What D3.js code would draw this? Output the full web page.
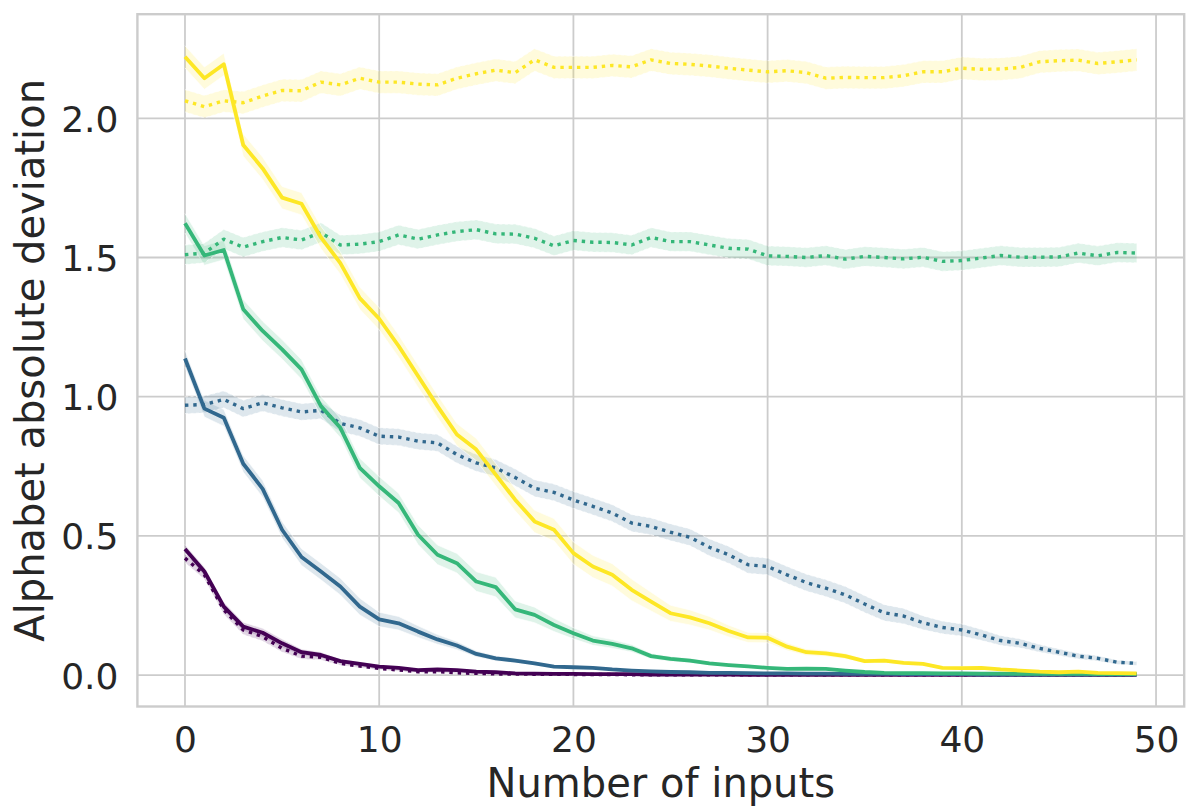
<!DOCTYPE html>
<html>
<head>
<meta charset="utf-8">
<script src="https://cdn.jsdelivr.net/npm/d3@7"></script>
<style>
  html, body { margin: 0; padding: 0; background: #ffffff; }
  svg { display: block; font-family: "DejaVu Sans", sans-serif; }
</style>
</head>
<body>
<svg id="chart" width="1199" height="808"></svg>
<script>
// ---- data ----
const xs = d3.range(0, 50); // number of inputs 0..49

const yellowSolid = [2.221,2.144,2.194,1.904,1.82,1.715,1.693,1.572,1.48,1.354,
  1.28,1.182,1.074,0.966,0.864,0.81,0.72,0.63,0.552,0.522,
  0.438,0.39,0.36,0.306,0.264,0.222,0.207,0.186,0.158,0.135,
  0.134,0.102,0.082,0.078,0.068,0.05,0.052,0.044,0.04,0.026,
  0.025,0.026,0.02,0.016,0.012,0.01,0.012,0.008,0.007,0.006];
const yellowDotted = [2.063,2.042,2.063,2.056,2.08,2.10,2.099,2.13,2.12,2.144,
  2.13,2.13,2.123,2.12,2.144,2.16,2.173,2.164,2.21,2.183,
  2.183,2.183,2.19,2.185,2.21,2.197,2.194,2.188,2.18,2.173,
  2.167,2.171,2.164,2.144,2.147,2.146,2.146,2.153,2.167,2.167,
  2.18,2.176,2.177,2.183,2.203,2.207,2.209,2.197,2.203,2.21];
const greenSolid = [1.623,1.507,1.527,1.314,1.236,1.17,1.098,0.966,0.888,0.744,
  0.678,0.618,0.504,0.432,0.402,0.336,0.316,0.236,0.216,0.18,
  0.15,0.124,0.112,0.096,0.068,0.058,0.052,0.042,0.036,0.031,
  0.026,0.022,0.023,0.022,0.016,0.011,0.008,0.007,0.007,0.006,
  0.006,0.005,0.005,0.004,0.004,0.004,0.005,0.003,0.003,0.003];
const greenDotted = [1.510,1.516,1.566,1.537,1.557,1.572,1.563,1.59,1.545,1.548,
  1.557,1.581,1.566,1.581,1.593,1.6,1.585,1.584,1.569,1.542,
  1.561,1.555,1.554,1.545,1.572,1.557,1.557,1.545,1.533,1.53,
  1.506,1.504,1.5,1.507,1.494,1.504,1.5,1.495,1.501,1.486,
  1.489,1.498,1.507,1.501,1.501,1.502,1.516,1.506,1.518,1.516];
const blueSolid = [1.137,0.957,0.924,0.759,0.669,0.522,0.424,0.372,0.318,0.246,
  0.2,0.186,0.156,0.128,0.106,0.076,0.06,0.052,0.042,0.03,
  0.028,0.026,0.02,0.016,0.013,0.011,0.01,0.008,0.008,0.007,
  0.006,0.006,0.005,0.005,0.004,0.004,0.004,0.003,0.003,0.003,
  0.003,0.002,0.002,0.002,0.002,0.002,0.002,0.002,0.002,0.002];
const blueDotted = [0.969,0.972,0.99,0.957,0.978,0.96,0.945,0.951,0.904,0.888,
  0.858,0.855,0.84,0.834,0.792,0.762,0.744,0.71,0.671,0.656,
  0.629,0.606,0.582,0.546,0.534,0.513,0.495,0.459,0.432,0.396,
  0.39,0.36,0.332,0.312,0.288,0.255,0.224,0.212,0.188,0.171,
  0.162,0.144,0.124,0.114,0.096,0.082,0.068,0.06,0.046,0.042];
const purpleSolid = [0.453,0.372,0.246,0.174,0.152,0.114,0.082,0.072,0.05,0.04,
  0.03,0.026,0.018,0.02,0.018,0.012,0.01,0.006,0.005,0.004,
  0.004,0.003,0.003,0.003,0.002,0.002,0.002,0.002,0.002,0.001,
  0.001,0.001,0.001,0.001,0.001,0.001,0.001,0.001,0.001,0.001,
  0.001,0.001,0.001,0.001,0.001,0.001,0.001,0.001,0.001,0.001];
const purpleDotted = [0.42,0.36,0.234,0.162,0.138,0.096,0.068,0.064,0.042,0.032,
  0.024,0.018,0.012,0.012,0.008,0.006,0.004,0.004,0.003,0.003,
  0.002,0.002,0.002,0.001,0.001,0.001,0.001,0.001,0.001,0.001,
  0.001,0.001,0.001,0.001,0.001,0.001,0.001,0.001,0.001,0.001,
  0.001,0.001,0.001,0.001,0.001,0.001,0.001,0.001,0.001,0.001];

// confidence band half-widths (approximate, per series)
const bandHalf = { purple: 0.016, blue: 0.03, green: 0.035, yellow: 0.04 };

const colors = { purple: "#440154", blue: "#31688e", green: "#35b779", yellow: "#fde725" };

const xTicks = [0, 10, 20, 30, 40, 50];
const yTicks = [0.0, 0.5, 1.0, 1.5, 2.0];

const series = [
  { key: "purple", style: "solid",  values: purpleSolid },
  { key: "purple", style: "dotted", values: purpleDotted },
  { key: "blue",   style: "solid",  values: blueSolid },
  { key: "blue",   style: "dotted", values: blueDotted },
  { key: "green",  style: "solid",  values: greenSolid },
  { key: "green",  style: "dotted", values: greenDotted },
  { key: "yellow", style: "solid",  values: yellowSolid },
  { key: "yellow", style: "dotted", values: yellowDotted }
];

// ---- layout ----
const svg = d3.select("#chart");
const pLeft = 137.4, pRight = 1184.2, pTop = 14.2, pBottom = 706.5;

const x = d3.scaleLinear().domain([-2.45, 51.45]).range([pLeft, pRight]);
const y = d3.scaleLinear().domain([-0.113, 2.374]).range([pBottom, pTop]);

const textColor = "#262626";
const gridColor = "#cccccc";

// grid
const grid = svg.append("g");
grid.selectAll("line.vx").data(xTicks).join("line")
  .attr("x1", d => x(d)).attr("x2", d => x(d))
  .attr("y1", pTop).attr("y2", pBottom)
  .attr("stroke", gridColor).attr("stroke-width", 1.8);
grid.selectAll("line.hy").data(yTicks).join("line")
  .attr("x1", pLeft).attr("x2", pRight)
  .attr("y1", d => y(d)).attr("y2", d => y(d))
  .attr("stroke", gridColor).attr("stroke-width", 1.8);

// clip
svg.append("clipPath").attr("id", "clip").append("rect")
  .attr("x", pLeft).attr("y", pTop).attr("width", pRight - pLeft).attr("height", pBottom - pTop);

const plot = svg.append("g").attr("clip-path", "url(#clip)");

const lineGen = d3.line().x((d, i) => x(xs[i])).y(d => y(d));

series.forEach(s => {
  const h = bandHalf[s.key];
  const half = s.values.map(v => Math.min(h, v * 0.12 + 0.002));
  const area = d3.area()
    .x((d, i) => x(xs[i]))
    .y0((d, i) => y(d - half[i]))
    .y1((d, i) => y(d + half[i]));
  plot.append("path").datum(s.values)
    .attr("d", area)
    .attr("fill", colors[s.key]).attr("fill-opacity", 0.16)
    .attr("stroke", "none");
  const lo = d3.line().x((d, i) => x(xs[i])).y((d, i) => y(d - half[i]));
  const hi = d3.line().x((d, i) => x(xs[i])).y((d, i) => y(d + half[i]));
  [lo, hi].forEach(g => {
    plot.append("path").datum(s.values).attr("d", g)
      .attr("fill", "none").attr("stroke", "#ffffff").attr("stroke-opacity", 0.7)
      .attr("stroke-width", 0.9).attr("stroke-dasharray", s.style === "dotted" ? "3 2.5" : null);
  });
});

series.forEach(s => {
  const dotted = s.style === "dotted";
  plot.append("path").datum(s.values)
    .attr("d", lineGen)
    .attr("fill", "none")
    .attr("stroke", colors[s.key])
    .attr("stroke-width", dotted ? 3.4 : 3.8)
    .attr("stroke-linejoin", "round")
    .attr("stroke-linecap", "butt")
    .attr("stroke-dasharray", dotted ? "3.4 4.9" : null);
});

// frame
svg.append("rect")
  .attr("x", pLeft).attr("y", pTop).attr("width", pRight - pLeft).attr("height", pBottom - pTop)
  .attr("fill", "none").attr("stroke", gridColor).attr("stroke-width", 2.4);

// axes tick labels
const xAxis = d3.axisBottom(x).tickValues(xTicks).tickSize(0).tickPadding(0).tickFormat(d3.format("d"));
const gx = svg.append("g").attr("transform", `translate(0,${pBottom})`).call(xAxis);
gx.select(".domain").remove();
gx.selectAll("text").attr("y", 45.5).attr("dy", null)
  .attr("font-size", 36).attr("fill", textColor).attr("font-family", "DejaVu Sans");

const yAxis = d3.axisLeft(y).tickValues(yTicks).tickSize(0).tickPadding(0).tickFormat(d3.format(".1f"));
const gy = svg.append("g").attr("transform", `translate(${pLeft},0)`).call(yAxis);
gy.select(".domain").remove();
gy.selectAll("text").attr("x", -19).attr("dy", "0.36em")
  .attr("font-size", 36).attr("fill", textColor).attr("font-family", "DejaVu Sans");

// axis labels
svg.append("text")
  .attr("x", (pLeft + pRight) / 2).attr("y", 797)
  .attr("text-anchor", "middle").attr("font-size", 40).attr("fill", textColor)
  .text("Number of inputs");
svg.append("text")
  .attr("transform", `translate(44,${(pTop + pBottom) / 2}) rotate(-90)`)
  .attr("text-anchor", "middle").attr("font-size", 40).attr("fill", textColor)
  .text("Alphabet absolute deviation");
</script>
</body>
</html>
